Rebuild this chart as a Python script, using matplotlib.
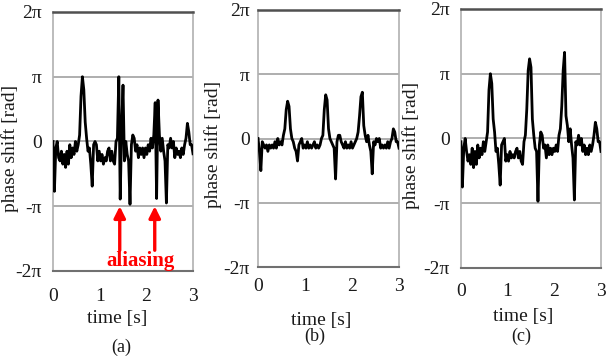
import matplotlib
matplotlib.use("Agg")
import matplotlib.pyplot as plt
import numpy as np

plt.rcParams['font.family'] = ['Liberation Serif', 'DejaVu Serif']

# sample times [s], 0.03 s step
time_s = np.arange(101) * 0.03

# phase shift in units of pi
phase_a = [0.00, -0.77, -0.10, 0.00, -0.25, -0.30, -0.15, -0.35, -0.20, -0.40,
           -0.15, -0.35, -0.05, -0.25, -0.10, -0.20, 0.00, -0.15, -0.05, 0.10,
           0.70, 1.00, 0.80, 0.30, 0.05, -0.15, -0.10, -0.35, -0.69, -0.05,
           0.00, -0.05, -0.30, -0.15, -0.30, -0.20, -0.35, -0.25, -0.30, -0.15,
           -0.10, -0.30, -0.15, -0.30, -0.35, 0.00, 0.05, 1.00, -0.89, 0.20,
           0.87, -0.30, 0.00, -0.20, -0.30, -0.97, -0.05, 0.10, 0.05, -0.15,
           -0.05, -0.25, -0.10, -0.20, -0.10, -0.25, -0.10, -0.20, -0.05, -0.15,
           0.05, -0.10, 0.10, 0.60, -0.88, 0.64, 0.10, -0.15, 0.05, -0.15,
           -0.30, -0.95, -0.05, -0.10, 0.05, -0.10, 0.00, -0.25, -0.10, -0.20,
           -0.15, -0.25, -0.10, -0.20, -0.05, 0.05, 0.28, 0.15, -0.05, -0.05,
           -0.19]

phase_b = [0.00, -0.20, -0.50, -0.05, -0.10, -0.15, -0.10, -0.20, -0.10, -0.15,
           -0.10, -0.15, -0.05, -0.15, 0.00, -0.10, -0.05, -0.10, 0.05, 0.15,
           0.45, 0.58, 0.50, 0.15, 0.00, -0.05, -0.15, -0.20, -0.35, -0.10,
           -0.05, 0.00, -0.15, -0.10, -0.15, -0.05, -0.15, -0.10, -0.15, -0.10,
           -0.05, -0.15, -0.10, -0.15, -0.10, 0.00, 0.05, 0.45, 0.68, 0.60,
           0.15, 0.00, -0.05, -0.10, -0.15, -0.63, -0.05, 0.05, 0.05, -0.05,
           -0.10, -0.15, -0.05, -0.15, -0.10, -0.15, -0.05, -0.15, -0.10, -0.05,
           0.00, 0.10, 0.35, 0.65, 0.72, 0.20, 0.05, -0.05, 0.05, -0.10,
           -0.20, -0.55, -0.05, -0.10, 0.00, -0.05, 0.00, -0.15, -0.10, -0.15,
           -0.10, -0.15, -0.05, -0.15, -0.05, 0.00, 0.15, 0.10, -0.05, -0.05,
           -0.15]

phase_c = [-0.05, -0.75, -0.15, 0.00, -0.20, -0.35, -0.25, -0.40, -0.15, -0.45,
           -0.20, -0.40, -0.10, -0.30, -0.15, -0.25, -0.05, -0.20, -0.05, 0.10,
           0.75, 1.00, 0.85, 0.30, 0.10, -0.20, -0.15, -0.40, -0.72, -0.10,
           -0.05, 0.00, -0.35, -0.25, -0.35, -0.20, -0.30, -0.25, -0.30, -0.20,
           -0.15, -0.30, -0.20, -0.35, -0.40, -0.05, 0.05, 0.45, 1.05, 1.23,
           1.10, 0.30, 0.05, -0.15, -0.20, -0.97, -0.10, 0.10, 0.05, -0.15,
           -0.10, -0.30, -0.10, -0.25, -0.15, -0.25, -0.15, -0.20, -0.10, -0.20,
           0.05, 0.15, 0.50, 1.05, 1.33, 0.35, 0.20, -0.05, 0.15, -0.10,
           -0.30, -0.95, -0.05, -0.10, 0.05, -0.10, 0.00, -0.20, -0.10, -0.25,
           -0.15, -0.25, -0.10, -0.20, -0.10, 0.05, 0.25, 0.15, -0.05, -0.05,
           -0.20]

ytick_vals = [-2, -1, 0, 1, 2]
ytick_labels = ['-2\u03c0', '-\u03c0', '0', '\u03c0', '2\u03c0']
xtick_vals = [0, 1, 2, 3]

panels = [
    # data, axes rect, xtick pad, ytick pad, ylabel pos, xlabel pos, caption pos, caption
    (phase_a, [0.0869, 0.2514, 0.2295, 0.7155], 12, 8, (10, 148), (117, 318), (121, 347), '(a)'),
    (phase_b, [0.4230, 0.2624, 0.2311, 0.7100], 8, 6, (213, 144), (321, 320), (315, 336), '(b)'),
    (phase_c, [0.7557, 0.2597, 0.2295, 0.7155], 11, 8, (411, 145), (523, 316), (521, 336), '(c)'),
]

W, H = 610, 362
fig = plt.figure(figsize=(W / 100, H / 100), dpi=100)
txt_col = '#1a1a1a'

axes = []
for data, rect, xpad, ypad, ylab, xlab, cap, capt in panels:
    ax = fig.add_axes(rect)
    for v in [-1, 0, 1]:
        ax.axhline(v * np.pi, color='#a8a8a8', lw=1.3, zorder=1)
    ax.plot(time_s, np.array(data) * np.pi, color='black', lw=2.0, zorder=3)
    ax.set_xlim(0, 3)
    ax.set_ylim(-2 * np.pi, 2 * np.pi)
    ax.set_xticks(xtick_vals)
    ax.set_yticks(np.array(ytick_vals) * np.pi)
    ax.set_yticklabels(ytick_labels)
    ax.tick_params(axis='both', length=0, labelsize=14, colors=txt_col)
    ax.tick_params(axis='x', pad=xpad)
    ax.tick_params(axis='y', pad=ypad)
    for side in ['left', 'right']:
        ax.spines[side].set_color('#b0b0b0')
        ax.spines[side].set_linewidth(1.2)
    ax.spines['top'].set_color('#505050')
    ax.spines['top'].set_linewidth(1.8)
    ax.spines['bottom'].set_color('#707070')
    ax.spines['bottom'].set_linewidth(1.5)
    fig.text(ylab[0] / W, 1 - ylab[1] / H, 'phase shift [rad]', rotation=90,
             ha='center', va='center', fontsize=14, color=txt_col)
    fig.text(xlab[0] / W, 1 - xlab[1] / H, 'time [s]', ha='center', va='center',
             fontsize=14, color=txt_col)
    fig.text(cap[0] / W, 1 - cap[1] / H, capt, ha='center', va='center',
             fontsize=13, color=txt_col)
    axes.append(ax)

# aliasing arrows in panel (a)
ax_a = axes[0]
for t_arrow in [1.43, 2.18]:
    ax_a.annotate('', xy=(t_arrow, -1.0 * np.pi), xytext=(t_arrow, -1.68 * np.pi),
                  arrowprops=dict(arrowstyle='-|>', color='red', lw=2.4,
                                  mutation_scale=17, shrinkA=0, shrinkB=0),
                  annotation_clip=False, zorder=4)
ax_a.text(1.88, -1.84 * np.pi, 'aliasing', color='red', fontsize=15,
          fontweight='bold', ha='center', va='center', zorder=4)

fig.savefig('out.png', dpi=100)
